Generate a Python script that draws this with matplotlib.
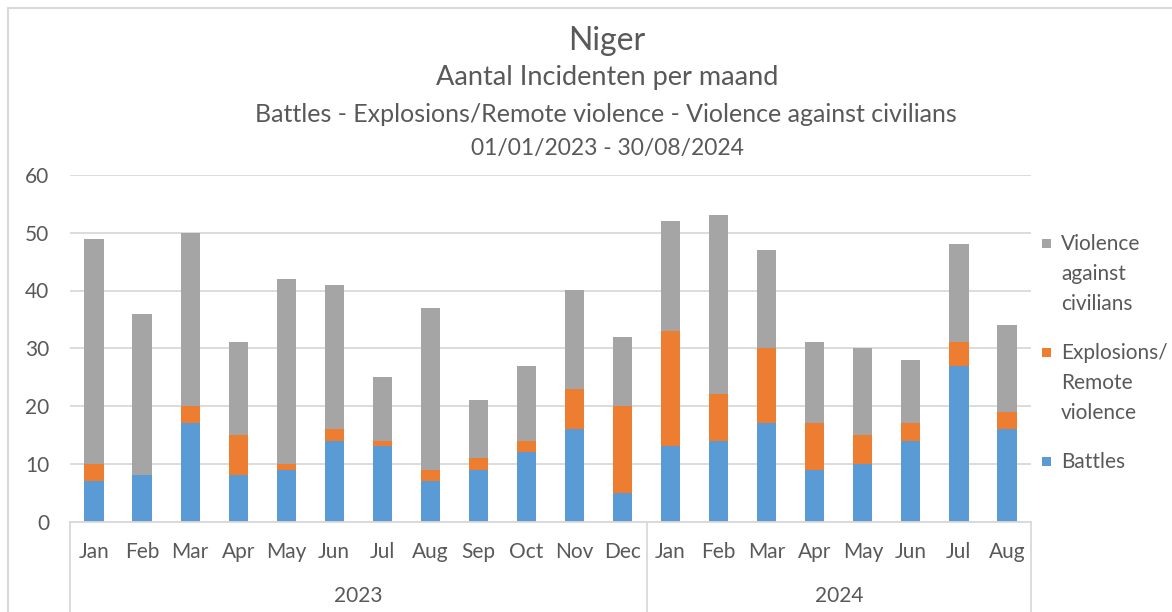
import matplotlib
matplotlib.use("Agg")
import matplotlib.pyplot as plt
from matplotlib.patches import Rectangle
import numpy as np

plt.rcParams['font.family'] = ['Lato', 'DejaVu Sans']

months = ["Jan", "Feb", "Mar", "Apr", "May", "Jun", "Jul", "Aug", "Sep", "Oct", "Nov", "Dec",
          "Jan", "Feb", "Mar", "Apr", "May", "Jun", "Jul", "Aug"]
years = ["2023", "2024"]
year_counts = [12, 8]

battles = [7, 8, 17, 8, 9, 14, 13, 7, 9, 12, 16, 5,
           13, 14, 17, 9, 10, 14, 27, 16]
explosions = [3, 0, 3, 7, 1, 2, 1, 2, 2, 2, 7, 15,
              20, 8, 13, 8, 5, 3, 4, 3]
violence = [39, 28, 30, 16, 32, 25, 11, 28, 10, 13, 17, 12,
            19, 31, 17, 14, 15, 11, 17, 15]

series_names = ["Battles", "Explosions/\nRemote\nviolence", "Violence\nagainst\ncivilians"]
colors = ["#5B9BD5", "#ED7D31", "#A5A5A5"]
text_color = "#595959"
grid_color = "#D9D9D9"

W, H = 1172, 612
fig = plt.figure(figsize=(W / 100, H / 100), dpi=100)

def fx(px):
    return px / W

def fy(py):
    return 1 - py / H

ax = fig.add_axes([fx(70), fy(521.5), fx(1031) - fx(70), fy(175) - fy(521.5)])

x = np.arange(len(months))
b = np.array(battles)
e = np.array(explosions)
v = np.array(violence)
bw = 0.4
ax.bar(x, b, bw, color=colors[0], zorder=2)
ax.bar(x, e, bw, bottom=b, color=colors[1], zorder=2)
ax.bar(x, v, bw, bottom=b + e, color=colors[2], zorder=2)

ax.set_xlim(-0.5, len(months) - 0.5)
ax.set_ylim(0, 60)
ax.set_yticks(np.arange(0, 61, 10))
ax.yaxis.grid(True, color=grid_color, linewidth=1.3)
ax.set_axisbelow(True)
for s in ["left", "top", "right"]:
    ax.spines[s].set_visible(False)
ax.spines["bottom"].set_color(grid_color)
ax.spines["bottom"].set_linewidth(1.3)
ax.tick_params(axis="y", length=0, pad=15, labelsize=15, labelcolor=text_color)
ax.set_xticks(x, months)
ax.tick_params(axis="x", length=0, pad=14.5, labelsize=15, labelcolor=text_color)

# multi-level category separators
trans = ax.get_xaxis_transform()
bounds = [-0.5]
for c in year_counts:
    bounds.append(bounds[-1] + c)
for bx in bounds:
    ax.plot([bx, bx], [0, -0.3], transform=trans, color=grid_color, lw=1.3, clip_on=False)
start = -0.5
for yr, c in zip(years, year_counts):
    ax.text(start + c / 2, -0.215, yr, transform=trans, ha="center", va="center",
            fontsize=15, color=text_color)
    start += c

# titles
fig.text(fx(607), fy(41), "Niger", ha="center", va="center", fontsize=23, color=text_color)
fig.text(fx(607), fy(78), "Aantal Incidenten per maand", ha="center", va="center",
         fontsize=19.5, color=text_color)
fig.text(fx(606), fy(115), "Battles - Explosions/Remote violence - Violence against civilians",
         ha="center", va="center", fontsize=18, color=text_color)
fig.text(fx(607), fy(148), "01/01/2023 - 30/08/2024", ha="center", va="center",
         fontsize=16.5, color=text_color)

# legend (top entry first)
leg_y = [243, 352, 461]
for name, col, yy in zip(series_names[::-1], colors[::-1], leg_y):
    fig.add_artist(Rectangle((fx(1042), fy(yy + 4.5)), fx(9), 9 / H, transform=fig.transFigure,
                             facecolor=col, edgecolor="none"))
    fig.text(fx(1061), fy(yy - 9), name, ha="left", va="top", fontsize=15,
             color=text_color, linespacing=1.64)

# chart border
fig.add_artist(Rectangle((fx(8), -0.1), 1.2, fy(8) + 0.1, transform=fig.transFigure,
                         fill=False, edgecolor=grid_color, lw=1.5, clip_on=False))

fig.savefig("out.png", dpi=100)
